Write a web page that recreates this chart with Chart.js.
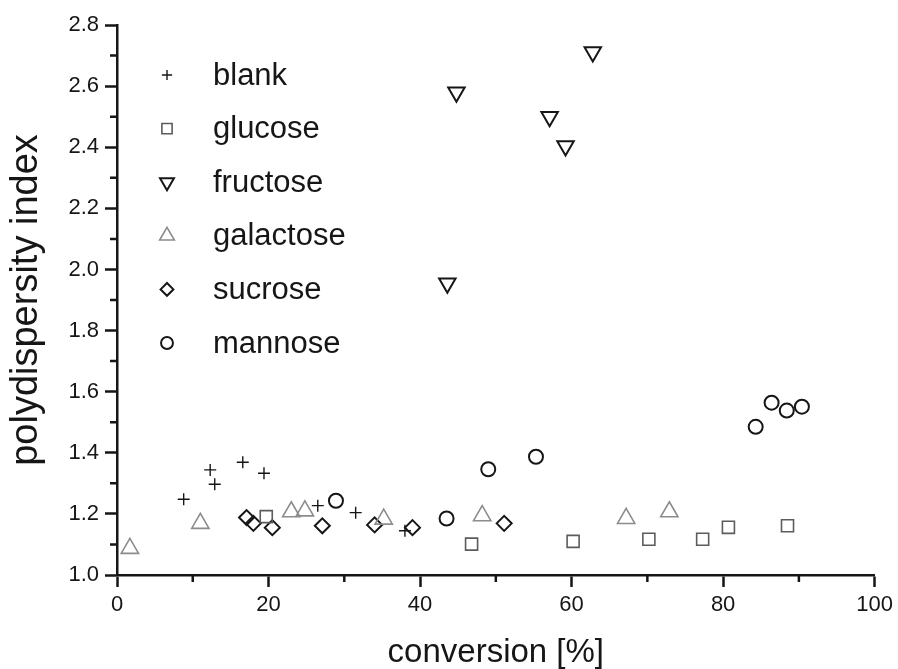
<!DOCTYPE html>
<html>
<head>
<meta charset="utf-8">
<script src="https://cdn.jsdelivr.net/npm/chart.js@4/dist/chart.umd.min.js"></script>
<style>
  html, body { margin: 0; padding: 0; background: #fff; }
  #wrap { width: 898px; height: 669px; }
</style>
</head>
<body>
<div id="wrap"><canvas id="pdiChart" width="898" height="669"></canvas></div>
<script>
// conversion [%] / polydispersity index per sugar additive
const blankX     = [8.8, 12.3, 12.9, 16.6, 19.4, 26.5, 31.5, 38.0];
const blankY     = [1.248, 1.344, 1.297, 1.369, 1.333, 1.227, 1.204, 1.145];
const glucoseX   = [19.7, 46.8, 60.2, 70.2, 77.3, 80.7, 88.5];
const glucoseY   = [1.191, 1.101, 1.110, 1.117, 1.117, 1.156, 1.161];
const fructoseX  = [43.6, 44.8, 57.1, 59.2, 62.8];
const fructoseY  = [1.955, 2.580, 2.500, 2.404, 2.712];
const galactoseX = [1.7, 11.0, 23.0, 24.8, 35.2, 48.2, 67.2, 72.9];
const galactoseY = [1.087, 1.169, 1.207, 1.210, 1.183, 1.194, 1.185, 1.207];
const sucroseX   = [17.1, 18.0, 20.5, 27.1, 34.0, 39.0, 51.1];
const sucroseY   = [1.188, 1.169, 1.155, 1.161, 1.164, 1.155, 1.169];
const mannoseX   = [28.9, 43.5, 49.0, 55.3, 84.3, 86.4, 88.4, 90.4];
const mannoseY   = [1.243, 1.185, 1.346, 1.387, 1.485, 1.564, 1.538, 1.551];

const seriesNames = ['blank', 'glucose', 'fructose', 'galactose', 'sucrose', 'mannose'];

const xTicks = [0, 20, 40, 60, 80, 100];
const yTicks = [1.0, 1.2, 1.4, 1.6, 1.8, 2.0, 2.2, 2.4, 2.6, 2.8];

const FONT = '"Liberation Sans", Arial, sans-serif';
const INK = '#161616';

function pts(xs, ys) {
    return xs.map((x, i) => ({ x: x, y: ys[i] }));
}

const styles = [
    { pointStyle: 'cross',    rotation: 0,   radius: 6,   borderWidth: 1.4, color: INK },
    { pointStyle: 'rect',     rotation: 0,   radius: 8.5, borderWidth: 1.6, color: '#5c5c5c' },
    { pointStyle: 'triangle', rotation: 180, radius: 9.5, borderWidth: 2,   color: INK },
    { pointStyle: 'triangle', rotation: 0,   radius: 10,  borderWidth: 1.6, color: '#8c8c8c' },
    { pointStyle: 'rectRot',  rotation: 0,   radius: 7.5, borderWidth: 2,   color: INK },
    { pointStyle: 'circle',   rotation: 0,   radius: 7,   borderWidth: 2,   color: INK }
];

const seriesData = [
    pts(blankX, blankY),
    pts(glucoseX, glucoseY),
    pts(fructoseX, fructoseY),
    pts(galactoseX, galactoseY),
    pts(sucroseX, sucroseY),
    pts(mannoseX, mannoseY)
];

const datasets = seriesNames.map((name, i) => ({
    label: name,
    data: seriesData[i],
    pointStyle: styles[i].pointStyle,
    rotation: styles[i].rotation,
    pointRadius: styles[i].radius,
    pointHoverRadius: styles[i].radius,
    pointBorderWidth: styles[i].borderWidth,
    borderColor: styles[i].color,
    backgroundColor: 'rgba(0,0,0,0)',
    showLine: false
}));

// short unlabelled ticks halfway between the labelled ones
const minorTicks = {
    id: 'minorTicks',
    afterDraw(chart) {
        const ctx = chart.ctx;
        const xs = chart.scales.x, ys = chart.scales.y;
        const area = chart.chartArea;
        ctx.save();
        ctx.strokeStyle = INK;
        ctx.lineWidth = 2.5;
        ctx.beginPath();
        for (let v = 10; v < 100; v += 20) {
            const px = xs.getPixelForValue(v);
            ctx.moveTo(px, area.bottom);
            ctx.lineTo(px, area.bottom + 7);
        }
        for (let v = 1.1; v < 2.8; v += 0.2) {
            const py = ys.getPixelForValue(v);
            ctx.moveTo(area.left, py);
            ctx.lineTo(area.left - 7, py);
        }
        ctx.stroke();
        ctx.restore();
    }
};

// legend block sitting inside the plot, top left
const innerLegend = {
    id: 'innerLegend',
    afterDraw(chart) {
        const ctx = chart.ctx;
        ctx.save();
        ctx.font = '31px ' + FONT;
        ctx.textBaseline = 'middle';
        ctx.textAlign = 'left';
        chart.data.datasets.forEach((ds, i) => {
            const y = 75 + i * 53.6;
            ctx.strokeStyle = ds.borderColor;
            ctx.fillStyle = 'rgba(0,0,0,0)';
            ctx.lineWidth = ds.pointBorderWidth;
            Chart.helpers.drawPoint(ctx, {
                pointStyle: ds.pointStyle,
                rotation: ds.rotation,
                radius: ds.pointRadius * 0.85,
                borderWidth: ds.pointBorderWidth
            }, 167, y);
            ctx.fillStyle = INK;
            ctx.fillText(ds.label, 213, y + 1);
        });
        ctx.restore();
    }
};

new Chart(document.getElementById('pdiChart'), {
    type: 'scatter',
    data: { datasets: datasets },
    options: {
        responsive: false,
        animation: false,
        layout: { padding: { top: 25, right: 23, left: 0, bottom: 0 } },
        plugins: { legend: { display: false }, tooltip: { enabled: false } },
        scales: {
            x: {
                type: 'linear', min: 0, max: 100,
                afterFit: s => { s.height = 94; },
                afterBuildTicks: s => { s.ticks = xTicks.map(v => ({ value: v })); },
                border: { display: true, color: INK, width: 2.5 },
                grid: { drawOnChartArea: false, drawTicks: true, tickLength: 12, tickWidth: 2.5, tickColor: INK },
                ticks: { color: INK, padding: 5, font: { family: FONT, size: 22 }, callback: v => String(v) },
                title: { display: true, text: 'conversion [%]', color: INK,
                         font: { family: FONT, size: 33, lineHeight: 1 }, padding: { top: 0, bottom: 0 } }
            },
            y: {
                type: 'linear', min: 1.0, max: 2.8,
                afterFit: s => { s.width = 117; },
                afterBuildTicks: s => { s.ticks = yTicks.map(v => ({ value: v })); },
                border: { display: true, color: INK, width: 2.5 },
                grid: { drawOnChartArea: false, drawTicks: true, tickLength: 12, tickWidth: 2.5, tickColor: INK },
                ticks: { color: INK, padding: 6, font: { family: FONT, size: 22 }, callback: v => v.toFixed(1) },
                title: { display: true, text: 'polydispersity index', color: INK,
                         font: { family: FONT, size: 38, lineHeight: 1 }, padding: { top: 8, bottom: 0 } }
            }
        }
    },
    plugins: [minorTicks, innerLegend]
});
</script>
</body>
</html>
